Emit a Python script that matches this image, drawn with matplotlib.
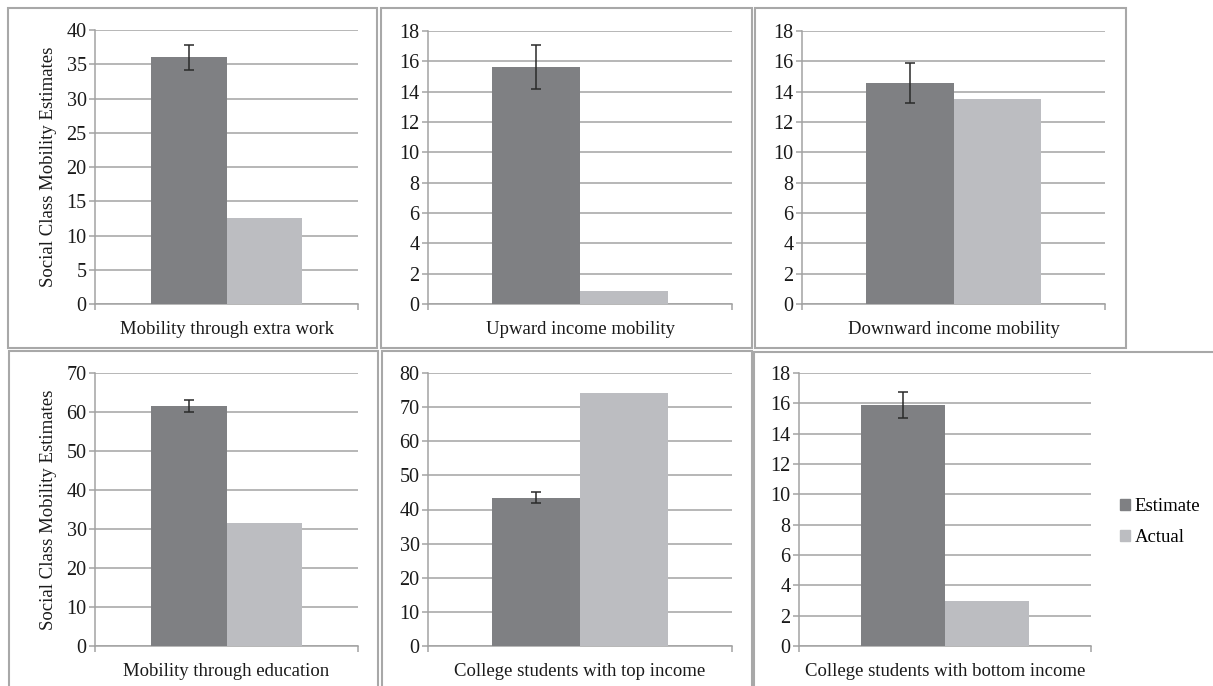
import matplotlib.pyplot as plt
from matplotlib.patches import Rectangle, Patch
import numpy as np

plt.rcParams['font.family'] = ['Liberation Serif', 'DejaVu Serif']

categories = ["Mobility through extra work", "Upward income mobility",
              "Downward income mobility", "Mobility through education",
              "College students with top income",
              "College students with bottom income"]
estimate = [36.0, 15.6, 14.55, 61.5, 43.5, 15.88]
estimate_err = [1.85, 1.45, 1.33, 1.55, 1.6, 0.87]
actual = [12.5, 0.87, 13.5, 31.5, 74.0, 3.0]
y_max = [40, 18, 18, 70, 80, 18]
y_step = [5, 2, 2, 10, 10, 2]

W, H = 1213, 686
fig = plt.figure(figsize=(W / 100, H / 100), dpi=100)

# axes boxes in pixels: left, right, top, bottom
boxes = [(95, 358, 30, 304), (428, 732, 31, 304), (802, 1105, 31, 304),
         (95, 358, 373, 646), (428, 732, 373, 646), (799, 1091, 373, 646)]
# panel frames in pixels: left, right, top, bottom
frames = [(8, 377, 8, 348), (381, 752, 8, 348), (755, 1126, 8, 348),
          (9, 378, 351, 700), (382, 752, 351, 700), (754, 1230, 352, 700)]

c_est = '#7f8083'
c_act = '#bcbdc1'
c_grid = '#a3a3a3'
fs = 13.5

for (l, r, t, b) in frames:
    fig.add_artist(Rectangle((l / W, 1 - b / H), (r - l) / W, (b - t) / H,
                             transform=fig.transFigure, fill=False,
                             ec='#a8a8a8', lw=1.5))

bw = 0.288
axes = []
for i, (l, r, t, b) in enumerate(boxes):
    ax = fig.add_axes([l / W, 1 - b / H, (r - l) / W, (b - t) / H])
    ax.bar(-bw / 2, estimate[i], width=bw, color=c_est, zorder=3)
    ax.bar(bw / 2, actual[i], width=bw, color=c_act, zorder=3)
    ax.errorbar(-bw / 2, estimate[i], yerr=estimate_err[i], fmt='none',
                ecolor='#2a2a2a', elinewidth=1.1, capsize=3.5, capthick=1.1,
                zorder=4)
    ax.set_xlim(-0.5, 0.5)
    ax.set_ylim(0, y_max[i])
    ax.set_yticks(np.arange(0, y_max[i] + 1, y_step[i]))
    ax.yaxis.grid(True, color=c_grid, lw=1.1, zorder=0)
    ax.set_xticks([-0.5, 0.5])
    ax.set_xticklabels([])
    ax.tick_params(axis='both', direction='out', length=4, width=1.1,
                   color=c_grid, labelsize=14.5, pad=2, labelcolor='#1a1a1a')
    for s in ['top', 'right']:
        ax.spines[s].set_visible(False)
    for s in ['left', 'bottom']:
        ax.spines[s].set_color(c_grid)
        ax.spines[s].set_linewidth(1.1)
    ax.set_xlabel(categories[i], fontsize=fs, labelpad=6, color='#1a1a1a')
    if i % 3 == 0:
        ax.set_ylabel("Social Class Mobility Estimates", fontsize=fs,
                      labelpad=7, color='#1a1a1a')
    axes.append(ax)

handles = [Patch(color=c_est, label='Estimate'),
           Patch(color=c_act, label='Actual')]
fig.legend(handles=handles, loc='center left',
           bbox_to_anchor=(1103 / W, 1 - 522 / H), frameon=False,
           fontsize=fs, handlelength=0.55, handleheight=0.55,
           handletextpad=0.25, labelspacing=0.75, borderpad=0.4)

fig.savefig('out.png', dpi=100)
